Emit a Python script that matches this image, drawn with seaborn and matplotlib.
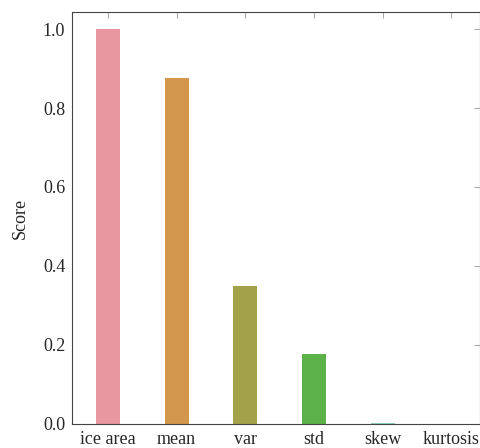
import numpy as np
import pandas as pd
import matplotlib
matplotlib.use('Agg')
import matplotlib.pyplot as plt
import seaborn as sns

# data
features = ['ice area', 'mean', 'var', 'std', 'skew', 'kurtosis']
scores = [1.0, 0.876, 0.350, 0.178, 0.003, 0.0]
colors = ['#e8969f', '#d2964c', '#a3a24a', '#5db14a', '#8fd0c4', '#8fc6e0']

df = pd.DataFrame({'feature': features, 'score': scores})

sns.set_style('white')
plt.rcParams['font.family'] = ['Liberation Serif', 'DejaVu Serif']

fig = plt.figure(figsize=(4.81, 4.48), dpi=100)
ax = fig.add_axes([0.150, 0.054, 0.848, 0.919])

sns.barplot(data=df, x='feature', y='score', hue='feature', palette=colors,
            saturation=1, width=0.35, linewidth=0, legend=False, ax=ax)

ax.set_xlim(-0.52, 5.42)
ax.set_ylim(0, 1.043)
ax.set_yticks([0, 0.2, 0.4, 0.6, 0.8, 1.0])
ax.set_yticklabels(['0.0', '0.2', '0.4', '0.6', '0.8', '1.0'])
ax.set_xlabel('')
ax.set_ylabel('Score', fontsize=13, labelpad=10)

for s in ax.spines.values():
    s.set_color('#444444')
    s.set_linewidth(0.8)
ax.tick_params(direction='in', length=4, width=0.8, color='#aaaaaa',
               top=True, right=True, labelsize=13, pad=5)

fig.savefig('out.png', dpi=100)
